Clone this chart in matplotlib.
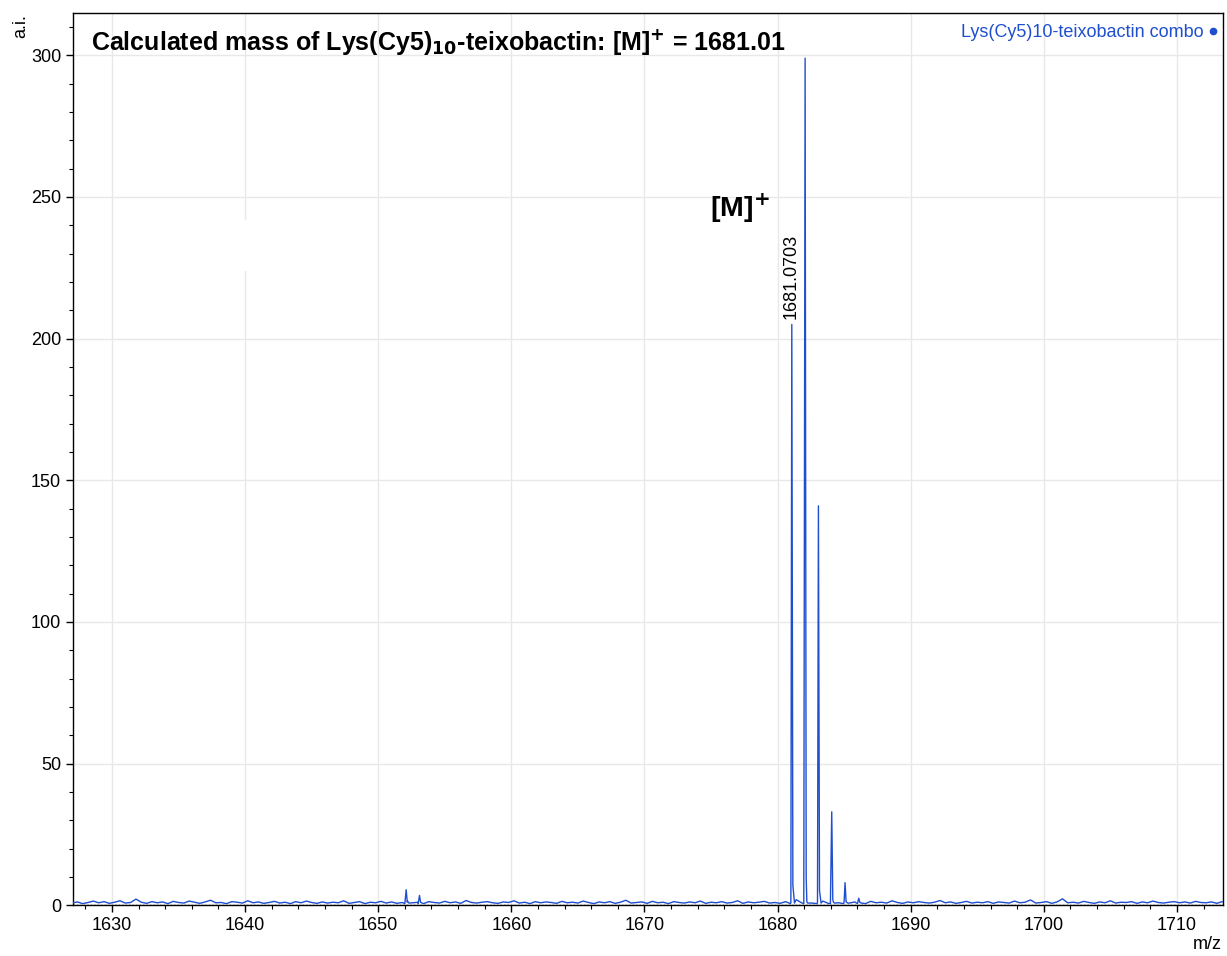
import numpy as np
import matplotlib.pyplot as plt
from matplotlib.patches import Rectangle
from matplotlib.ticker import MultipleLocator

plt.rcParams['font.family'] = ['Liberation Sans', 'DejaVu Sans']

# --- spectrum data ---
# baseline noise, sampled every 0.4 m/z from 1627.0
base_start = 1627.0
base_step = 0.4
baseline = [
    0.8, 1.2, 0.6, 1.0, 1.5, 0.9, 1.3, 0.7, 1.1, 1.6,
    0.8, 1.0, 2.2, 1.1, 0.7, 1.3, 0.9, 1.2, 0.6, 1.4,
    1.0, 0.8, 1.5, 1.1, 0.7, 1.2, 1.8, 0.9, 1.0, 0.6,
    1.3, 1.1, 0.8, 1.6, 0.9, 1.2, 0.7, 1.0, 1.4, 0.8,
    1.1, 0.6, 1.3, 0.9, 1.5, 1.0, 0.7, 1.2, 0.8, 1.1,
    0.9, 1.6, 0.7, 1.0, 1.3, 0.6, 1.1, 0.9, 1.4, 0.8,
    1.2, 0.7, 1.0, 1.5, 0.9, 1.1, 0.6, 1.3, 1.0, 0.8,
    1.4, 0.9, 1.2, 0.7, 1.7, 1.0, 0.8, 1.1, 1.3, 0.9,
    0.7, 1.2, 1.0, 1.6, 0.8, 1.1, 0.6, 1.3, 0.9, 1.2,
    1.0, 0.7, 1.4, 0.9, 1.1, 0.8, 1.5, 1.0, 0.6, 1.2,
    0.9, 1.3, 0.7, 1.1, 1.8, 0.8, 1.0, 1.2, 0.7, 1.4,
    0.9, 1.1, 0.6, 1.3, 1.0, 0.8, 1.2, 0.9, 1.5, 0.7,
    1.1, 0.9, 1.3, 0.8, 1.0, 1.6, 0.7, 1.2, 0.9, 1.1,
    1.4, 0.8, 1.0, 0.7, 1.3, 1.1, 2.0, 0.9, 1.2, 0.8,
    1.0, 1.5, 0.7, 1.1, 0.9, 1.3, 0.8, 1.2, 1.0, 0.6,
    1.4, 0.9, 1.1, 0.8, 1.6, 1.0, 0.7, 1.2, 0.9, 1.3,
    1.0, 0.8, 1.1, 1.7, 0.9, 1.2, 0.7, 1.0, 1.4, 0.8,
    1.1, 0.9, 1.3, 0.7, 1.2, 1.0, 0.8, 1.5, 0.9, 1.1,
    1.9, 0.8, 1.0, 1.3, 0.7, 1.2, 2.3, 0.9, 1.1, 0.8,
    1.4, 1.0, 0.7, 1.2, 0.9, 1.6, 0.8, 1.1, 1.0, 1.3,
    0.7, 1.2, 0.9, 1.5, 1.0, 0.8, 1.1, 1.3, 0.9, 1.2,
    0.8, 1.4, 1.0, 0.9, 1.2, 0.7, 1.3, 1.0,
]

# peak centroids and heights
peak_mz = [1652.1, 1653.1, 1681.07, 1682.07, 1683.07, 1684.07, 1685.07, 1686.1]
peak_int = [5.5, 3.5, 205.0, 299.0, 141.0, 33.0, 8.0, 2.5]

label_mz = 1681.0703
title = r"Calculated mass of Lys(Cy5)$_{\mathbf{10}}$-teixobactin: [M]$^{\mathbf{+}}$ = 1681.01"
legend_label = "Lys(Cy5)10-teixobactin combo"
blue = '#1f4fcf'

# build profile points: baseline samples plus narrow peak shapes
base_mz = base_start + base_step * np.arange(len(baseline))
mz = list(base_mz)
inten = list(baseline)
for m, h in zip(peak_mz, peak_int):
    mz += [m - 0.1, m, m + 0.08, m + 0.2]
    inten += [0.6, h, 0.03 * h + 1.0, 0.8]
order = np.argsort(mz)
mz = np.array(mz)[order]
inten = np.array(inten)[order]

fig, ax = plt.subplots(figsize=(12.27, 9.56), dpi=100)
fig.subplots_adjust(left=0.0595, right=0.9967, top=0.986, bottom=0.053)

ax.plot(mz, inten, color=blue, lw=1.0, zorder=3)
ax.axhline(0, color='black', lw=1.0, ls=(0, (1, 1.5)), zorder=4)

ax.set_xlim(1627.07, 1713.46)
ax.set_ylim(0, 314.8)

ax.xaxis.set_major_locator(MultipleLocator(10))
ax.xaxis.set_minor_locator(MultipleLocator(2))
ax.yaxis.set_major_locator(MultipleLocator(50))
ax.yaxis.set_minor_locator(MultipleLocator(10))
ax.grid(True, which='major', color='#e8e8e8', lw=1.0, zorder=0)
ax.set_axisbelow(True)
ax.tick_params(which='major', length=5, width=1, labelsize=13, direction='out')
ax.tick_params(which='minor', length=3, width=0.8, direction='out')
for s in ax.spines.values():
    s.set_linewidth(1.0)
    s.set_color('black')

# hidden annotation box breaking the grid line
ax.add_patch(Rectangle((1639.6, 224), 0.8, 18, facecolor='white', edgecolor='none', zorder=1))

ax.text(0.0155, 0.985, title, transform=ax.transAxes, fontsize=18, fontweight='bold',
        va='top', ha='left')

ax.text(0.983, 0.9885, legend_label, transform=ax.transAxes, fontsize=13, color=blue,
        va='top', ha='right')
ax.plot([0.9915], [0.9805], 'o', color=blue, ms=4.5, transform=ax.transAxes, clip_on=False)

ax.text(1674.95, 240, r"[M]$^{\mathbf{+}}$", fontsize=20.5, fontweight='bold', ha='left', va='bottom')
ax.text(label_mz - 0.05, 207, f"{label_mz:.4f}", rotation=90, fontsize=13, ha='center', va='bottom')

fig.text(0.017, 0.985, "a.i.", rotation=90, fontsize=13, ha='center', va='top')
fig.text(0.996, 0.003, "m/z", fontsize=13, ha='right', va='bottom')

fig.savefig('out.png', dpi=100)
